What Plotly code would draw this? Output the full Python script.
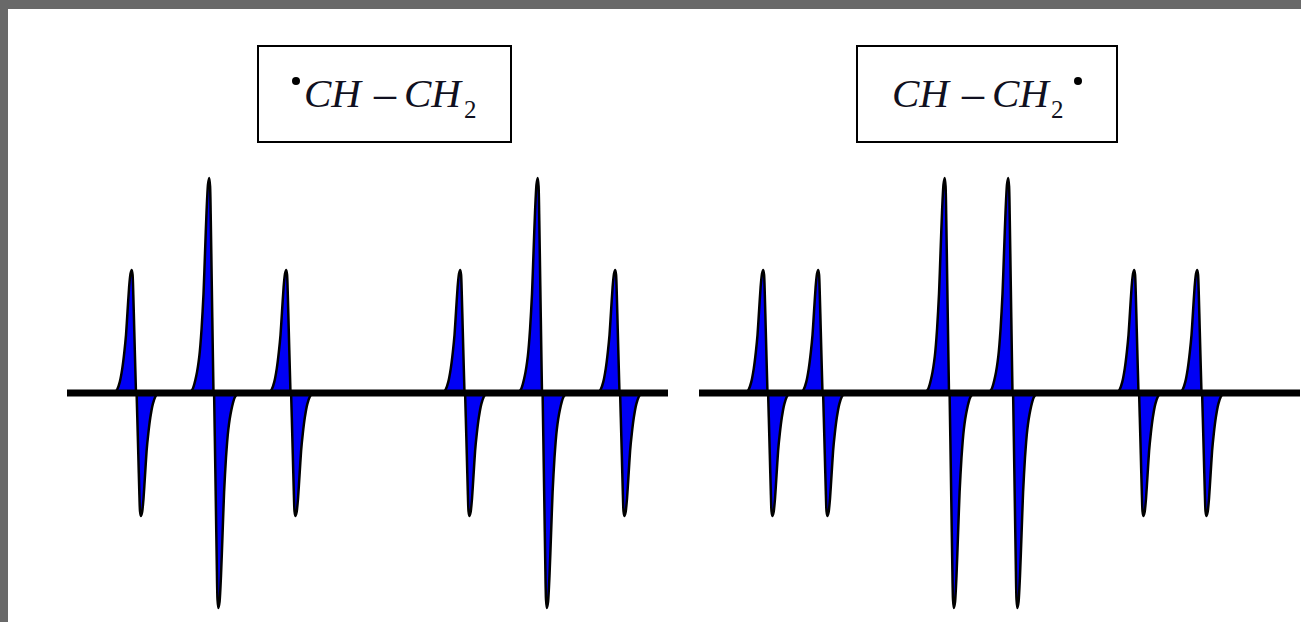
import plotly.graph_objects as go

# Line positions along the field axis and peak heights
left_centres = [136.3, 213.8, 290.8, 464.8, 542.3, 619.8]
left_heights = [123, 215, 123, 123, 215, 123]
right_centres = [767.8, 822.8, 949.3, 1012.8, 1138.8, 1201.8]
right_heights = [123, 123, 215, 215, 123, 123]

# Lobe profiles: offset from the zero crossing, relative height
small_offset = [-21.5, -19.0, -16.5, -14.0, -12.0, -10.3, -8.8, -7.2, -5.8, -4.6, -3.7, -3.0, -2.0, -1.0, -0.3]
small_height = [0.0, 0.03, 0.09, 0.2, 0.33, 0.47, 0.66, 0.86, 0.97, 1.0, 0.96, 0.8, 0.5, 0.2, 0.0]
large_offset = [-24.0, -21.0, -17.5, -14.5, -12.2, -10.3, -8.8, -7.2, -5.8, -4.6, -3.7, -3.0, -2.0, -1.0, -0.3]
large_height = [0.0, 0.02, 0.08, 0.17, 0.3, 0.46, 0.65, 0.85, 0.97, 1.0, 0.96, 0.8, 0.5, 0.2, 0.0]

baseline_spans = [(67, 668), (699, 1300)]
dot_x = [296, 1078]
dot_y = [312, 312]

BLUE = "#0000f5"
fig = go.Figure()


def add_lobes(centres, heights):
    for c, h in zip(centres, heights):
        off, rel = (small_offset, small_height) if h < 150 else (large_offset, large_height)
        fig.add_trace(go.Scatter(
            x=[c + o for o in off], y=[h * p for p in rel],
            mode="lines", fill="toself", fillcolor=BLUE,
            line=dict(color="black", width=2.5, shape="spline", smoothing=0.6),
            hoverinfo="skip", showlegend=False))
        fig.add_trace(go.Scatter(
            x=[c - o for o in off], y=[-h * p for p in rel],
            mode="lines", fill="toself", fillcolor=BLUE,
            line=dict(color="black", width=2.5, shape="spline", smoothing=0.6),
            hoverinfo="skip", showlegend=False))


add_lobes(left_centres, left_heights)
add_lobes(right_centres, right_heights)

for a, b in baseline_spans:
    fig.add_trace(go.Scatter(x=[a, b], y=[0, 0], mode="lines",
                             line=dict(color="black", width=7),
                             hoverinfo="skip", showlegend=False))

# Radical dots
fig.add_trace(go.Scatter(x=dot_x, y=dot_y, mode="markers",
                         marker=dict(color="black", size=8),
                         hoverinfo="skip", showlegend=False))

shapes = [
    dict(type="rect", x0=258, x1=511, y0=347, y1=251, line=dict(color="black", width=2)),
    dict(type="rect", x0=857, x1=1117, y0=347, y1=251, line=dict(color="black", width=2)),
]

serif = "Liberation Serif"
annots = []


def text(x, y, s, size, italic=True):
    annots.append(dict(
        x=x, y=y, text=f"<i>{s}</i>" if italic else s, showarrow=False,
        xanchor="left", yanchor="middle", xref="x", yref="y",
        font=dict(family=serif, size=size, color="#101020"), borderpad=0))


text(303, 300, "CH", 41)
text(372, 300, "\u2013", 44, italic=False)
text(403, 300, "CH", 41)
text(463, 284, "2", 25, italic=False)

text(891, 300, "CH", 41)
text(960, 300, "\u2013", 44, italic=False)
text(991, 300, "CH", 41)
text(1050, 284, "2", 25, italic=False)

fig.update_layout(
    width=1301, height=622,
    margin=dict(l=8, r=0, t=9, b=0, pad=0),
    paper_bgcolor="#696969", plot_bgcolor="white",
    xaxis=dict(range=[8, 1301], visible=False, fixedrange=True),
    yaxis=dict(range=[-229, 384], visible=False, fixedrange=True),
    shapes=shapes, annotations=annots, showlegend=False,
)

fig.write_html("out.html", config=dict(displayModeBar=False),
               post_script="document.body.style.margin='0';document.body.style.overflow='hidden';")
